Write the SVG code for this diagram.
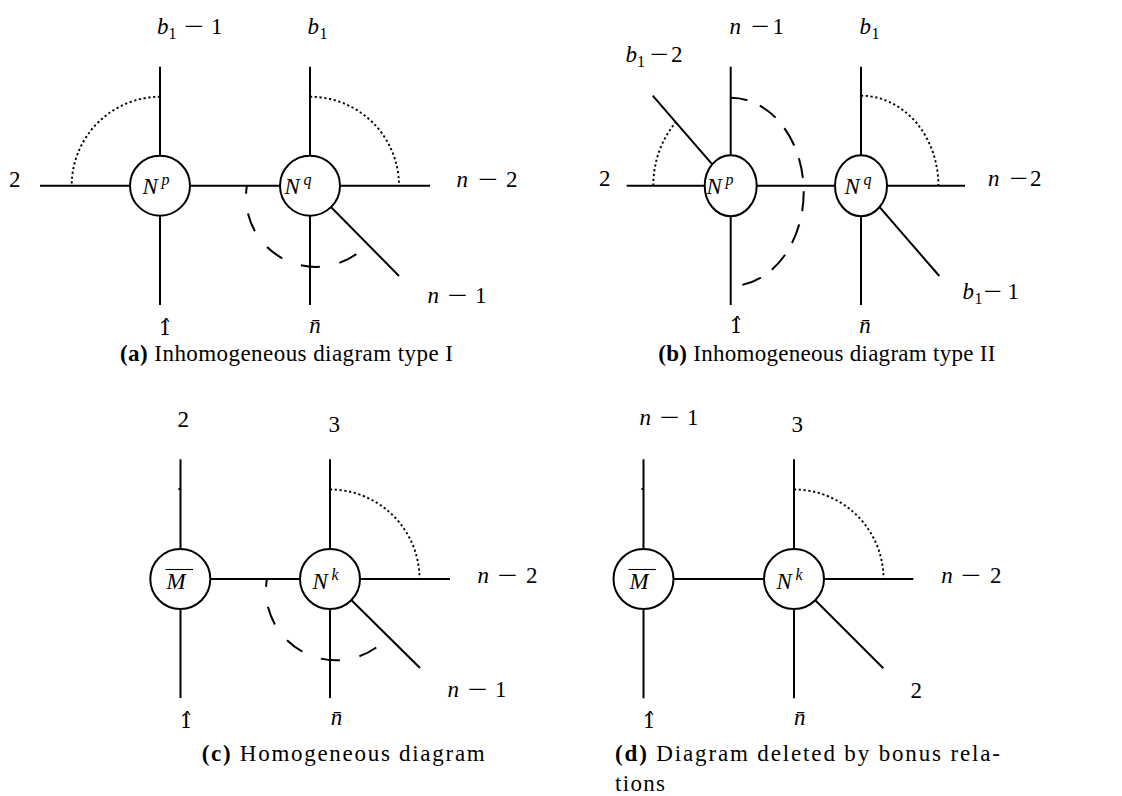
<svg xmlns="http://www.w3.org/2000/svg" width="1122" height="796" viewBox="0 0 1122 796">
<style>
.ln{stroke:#000;stroke-width:2;fill:none;stroke-linecap:butt}
.dot{stroke:#000;stroke-width:1.9;fill:none;stroke-dasharray:2.2 2.6}
.dsh{stroke:#000;stroke-width:2;fill:none}
.nd{fill:#fff;stroke:#000;stroke-width:2}
.t{font-family:"Liberation Serif",serif;font-size:23px;fill:#000}
.h{font-family:"DejaVu Serif",serif;font-size:20px;fill:#000}
.i{font-style:italic}
.s{font-size:16px}
.cap{font-family:"Liberation Serif",serif;font-size:23px;fill:#000}
.b{font-weight:bold}
</style>
<rect width="1122" height="796" fill="#fff"/>
<g id="connectors">
  <!-- (a) -->
  <line class="ln" x1="40" y1="185.7" x2="430" y2="185.7"/>
  <line class="ln" x1="160" y1="66.7" x2="160" y2="305"/>
  <line class="ln" x1="310" y1="66.7" x2="310" y2="305"/>
  <line class="ln" x1="310" y1="185.7" x2="399" y2="276"/>
  <path class="dot" d="M160,96.7 A89,89 0 0 0 71.7,185.7"/>
  <path class="dot" d="M310,96.7 A89,89 0 0 1 399,185.7"/>
  <path class="dsh" d="M246.9,185.7 A70,70 0 0 0 366.9,245" stroke-dasharray="19 20" stroke-dashoffset="11"/>
  <!-- (b) -->
  <line class="ln" x1="626.7" y1="185.7" x2="965" y2="185.7"/>
  <line class="ln" x1="730.7" y1="66.7" x2="730.7" y2="305"/>
  <line class="ln" x1="861" y1="66.7" x2="861" y2="305"/>
  <line class="ln" x1="730.7" y1="185.7" x2="652.7" y2="95.7"/>
  <line class="ln" x1="861" y1="185.7" x2="939.3" y2="276"/>
  <path class="dot" d="M653.3,185.7 A77.4,90 0 0 1 676,122.1"/>
  <path class="dot" d="M861,95.7 A77.4,90 0 0 1 938.4,185.7"/>
  <path class="dsh" d="M730.7,97.7 A73,94.2 0 0 1 730.7,286.1" stroke-dasharray="20 13.5" stroke-dashoffset="3"/>
  <!-- (c) -->
  <line class="ln" x1="180.5" y1="579" x2="450" y2="579"/>
  <line class="ln" x1="180.5" y1="459.3" x2="180.5" y2="698"/>
  <line class="ln" x1="330" y1="459.3" x2="330" y2="698"/>
  <line class="ln" x1="330" y1="579" x2="420" y2="668"/>
  <line class="ln" x1="178.4" y1="489" x2="180.5" y2="489"/>
  <path class="dot" d="M330,489.5 A89.5,89.5 0 0 1 419.5,579"/>
  <path class="dsh" d="M266.9,579 A70,70 0 0 0 386.9,638.3" stroke-dasharray="19 20" stroke-dashoffset="11"/>
  <!-- (d) -->
  <line class="ln" x1="643.5" y1="579" x2="913.3" y2="579"/>
  <line class="ln" x1="643.5" y1="459.3" x2="643.5" y2="698.3"/>
  <line class="ln" x1="794" y1="459.3" x2="794" y2="698.3"/>
  <line class="ln" x1="794" y1="579" x2="883.3" y2="668.3"/>
  <line class="ln" x1="641.4" y1="489" x2="643.5" y2="489"/>
  <path class="dot" d="M794,489.5 A89.5,89.5 0 0 1 883.5,579"/>
</g>
<g id="node-a-Np">
  <circle class="nd" cx="160" cy="185.7" r="30"/>
  <text class="t i" x="142.5" y="193.5">N<tspan class="s" x="161.5" y="185">p</tspan></text>
</g>
<g id="node-a-Nq">
  <circle class="nd" cx="310" cy="185.7" r="30"/>
  <text class="t i" x="284.5" y="193.5">N<tspan class="s" x="303.5" y="185">q</tspan></text>
</g>
<g id="node-b-Np">
  <ellipse class="nd" cx="730.7" cy="185.7" rx="26" ry="30.5"/>
  <text class="t i" x="706.5" y="193.5">N<tspan class="s" x="725.5" y="185">p</tspan></text>
</g>
<g id="node-b-Nq">
  <ellipse class="nd" cx="861" cy="185.7" rx="26" ry="30.5"/>
  <text class="t i" x="844.5" y="193.5">N<tspan class="s" x="863.5" y="185">q</tspan></text>
</g>
<g id="node-c-M">
  <circle class="nd" cx="180.3" cy="579" r="30"/>
  <line x1="165.5" y1="569.5" x2="193" y2="569.5" stroke="#000" stroke-width="1.1"/>
  <text class="t i" x="166.5" y="589">M</text>
</g>
<g id="node-c-Nk">
  <circle class="nd" cx="330" cy="579" r="30"/>
  <text class="t i" x="312.5" y="588.5">N<tspan class="s" x="331.5" y="580">k</tspan></text>
</g>
<g id="node-d-M">
  <circle class="nd" cx="643.5" cy="579" r="30"/>
  <line x1="628.5" y1="569.5" x2="656" y2="569.5" stroke="#000" stroke-width="1.1"/>
  <text class="t i" x="629.5" y="589">M</text>
</g>
<g id="node-d-Nk">
  <circle class="nd" cx="794" cy="579" r="30"/>
  <text class="t i" x="776.5" y="588.5">N<tspan class="s" x="795.5" y="580">k</tspan></text>
</g>
<g id="labels">
  <!-- (a) -->
  <text class="t" x="157" y="33.5"><tspan class="i">b</tspan><tspan class="s" x="168.5" y="38.5">1</tspan><tspan x="184" y="33.5" textLength="20" lengthAdjust="spacingAndGlyphs">−</tspan><tspan x="211" y="33.5">1</tspan></text>
  <text class="t" x="307.5" y="33.5"><tspan class="i">b</tspan><tspan class="s" x="319.5" y="38.5">1</tspan></text>
  <text class="t" x="9" y="187">2</text>
  <text class="t" x="456.5" y="187"><tspan class="i">n</tspan><tspan x="478" textLength="20" lengthAdjust="spacingAndGlyphs">−</tspan><tspan x="506">2</tspan></text>
  <text class="t" x="427.5" y="303"><tspan class="i">n</tspan><tspan x="447.5" textLength="20" lengthAdjust="spacingAndGlyphs">−</tspan><tspan x="475">1</tspan></text>
  <text class="h" x="165" y="335" text-anchor="middle">1&#x302;</text>
  <text class="t i" x="315" y="333" text-anchor="middle">n&#x304;</text>
  <!-- (b) -->
  <text class="t" x="625.5" y="61.7"><tspan class="i">b</tspan><tspan class="s" x="637" y="66.5">1</tspan><tspan x="650" y="61.7" textLength="18.5" lengthAdjust="spacingAndGlyphs">−</tspan><tspan x="671" y="61.7">2</tspan></text>
  <text class="t" x="729.5" y="34"><tspan class="i">n</tspan><tspan x="751" textLength="18.5" lengthAdjust="spacingAndGlyphs">−</tspan><tspan x="772.5">1</tspan></text>
  <text class="t" x="859.5" y="33.5"><tspan class="i">b</tspan><tspan class="s" x="871.5" y="38.5">1</tspan></text>
  <text class="t" x="599" y="186">2</text>
  <text class="t" x="988" y="186"><tspan class="i">n</tspan><tspan x="1009.5" textLength="18.5" lengthAdjust="spacingAndGlyphs">−</tspan><tspan x="1030">2</tspan></text>
  <text class="t" x="962.5" y="299.3"><tspan class="i">b</tspan><tspan class="s" x="974.5" y="304">1</tspan><tspan x="983.5" y="299.3" textLength="18.5" lengthAdjust="spacingAndGlyphs">−</tspan><tspan x="1007.5" y="299.3">1</tspan></text>
  <text class="h" x="736" y="333" text-anchor="middle">1&#x302;</text>
  <text class="t i" x="865" y="333" text-anchor="middle">n&#x304;</text>
  <!-- (c) -->
  <text class="t" x="177.5" y="427">2</text>
  <text class="t" x="328.5" y="431.7">3</text>
  <text class="t" x="477.5" y="583"><tspan class="i">n</tspan><tspan x="497.5" textLength="20" lengthAdjust="spacingAndGlyphs">−</tspan><tspan x="526">2</tspan></text>
  <text class="t" x="447.5" y="696.7"><tspan class="i">n</tspan><tspan x="467.5" textLength="20" lengthAdjust="spacingAndGlyphs">−</tspan><tspan x="495">1</tspan></text>
  <text class="h" x="186" y="728" text-anchor="middle">1&#x302;</text>
  <text class="t i" x="336.5" y="725" text-anchor="middle">n&#x304;</text>
  <!-- (d) -->
  <text class="t" x="639.5" y="425"><tspan class="i">n</tspan><tspan x="659.5" textLength="20" lengthAdjust="spacingAndGlyphs">−</tspan><tspan x="687">1</tspan></text>
  <text class="t" x="791.5" y="431.7">3</text>
  <text class="t" x="941.2" y="583"><tspan class="i">n</tspan><tspan x="961" textLength="20" lengthAdjust="spacingAndGlyphs">−</tspan><tspan x="990">2</tspan></text>
  <text class="t" x="910.5" y="698.3">2</text>
  <text class="h" x="649" y="728" text-anchor="middle">1&#x302;</text>
  <text class="t i" x="799.7" y="725" text-anchor="middle">n&#x304;</text>
</g>
<g id="captions">
  <text class="cap" x="120" y="361" textLength="333" lengthAdjust="spacing"><tspan class="b">(a)</tspan> Inhomogeneous diagram type I</text>
  <text class="cap" x="658.3" y="361" textLength="337" lengthAdjust="spacing"><tspan class="b">(b)</tspan> Inhomogeneous diagram type II</text>
  <text class="cap" x="201.7" y="761" textLength="283" lengthAdjust="spacing"><tspan class="b">(c)</tspan> Homogeneous diagram</text>
  <text class="cap" x="615" y="761" textLength="385" lengthAdjust="spacing"><tspan class="b">(d)</tspan> Diagram deleted by bonus rela-</text>
  <text class="cap" x="615" y="791" textLength="50" lengthAdjust="spacing">tions</text>
</g>
</svg>
